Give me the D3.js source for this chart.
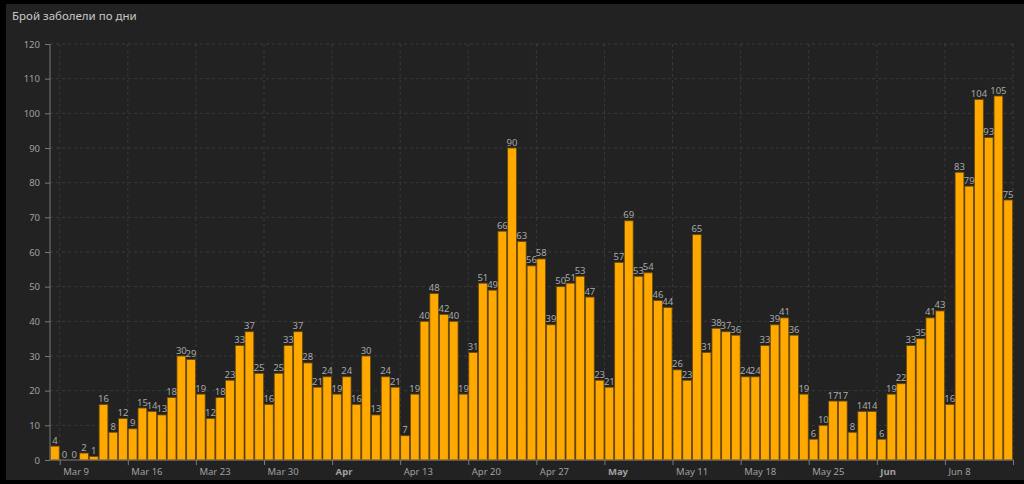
<!DOCTYPE html>
<html>
<head>
<meta charset="utf-8">
<script src="https://cdn.jsdelivr.net/npm/d3@7"></script>
<style>
  html, body { margin: 0; padding: 0; background: #000; }
  svg { display: block; }
</style>
</head>
<body>
<svg id="chart" width="1024" height="484"></svg>
<script>
const title = "Брой заболели по дни";
const startDate = "2020-03-08";
const values = [4, 0, 0, 2, 1, 16, 8, 12, 9, 15, 14, 13, 18, 30, 29, 19, 12, 18, 23, 33,
  37, 25, 16, 25, 33, 37, 28, 21, 24, 19, 24, 16, 30, 13, 24, 21, 7, 19, 40, 48,
  42, 40, 19, 31, 51, 49, 66, 90, 63, 56, 58, 39, 50, 51, 53, 47, 23, 21, 57, 69,
  53, 54, 46, 44, 26, 23, 65, 31, 38, 37, 36, 24, 24, 33, 39, 41, 36, 19, 6, 10,
  17, 17, 8, 14, 14, 6, 19, 22, 33, 35, 41, 43, 16, 83, 79, 104, 93, 105, 75];
const yTicks = [0, 10, 20, 30, 40, 50, 60, 70, 80, 90, 100, 110, 120];

(function () {
const parse = d3.utcParse("%Y-%m-%d");
const t0 = parse(startDate);
const data = values.map((v, i) => ({ date: d3.utcDay.offset(t0, i), value: v }));
const tEnd = d3.utcDay.offset(t0, values.length);

const svg = d3.select("#chart");
const font = "'Noto Sans', 'Open Sans', sans-serif";

svg.append("rect").attr("x", 0).attr("y", 0).attr("width", 1024).attr("height", 484).attr("fill", "#000");
svg.append("rect").attr("x", 6).attr("y", 4).attr("width", 1018).attr("height", 476).attr("fill", "#222222");

svg.append("text").attr("x", 12).attr("y", 20)
  .attr("fill", "#c8c8c8").attr("font-family", font).attr("font-size", 11.5)
  .text(title);

const mL = 50, mR = 1013, mT = 44, mB = 460;
const x = d3.scaleUtc().domain([t0, tEnd]).range([mL, mR]);
const y = d3.scaleLinear().domain([0, 120]).range([mB, mT]);

const weekTicks = d3.utcMonday.range(t0, tEnd);

const grid = svg.append("g");
grid.selectAll("line.h").data(yTicks.filter(d => d > 0)).join("line")
  .attr("x1", mL).attr("x2", mR).attr("y1", d => y(d)).attr("y2", d => y(d))
  .attr("stroke", "#3a3a3a").attr("stroke-dasharray", "3,3");
grid.selectAll("line.v").data(weekTicks.concat([tEnd])).join("line")
  .attr("x1", d => x(d)).attr("x2", d => x(d)).attr("y1", mT).attr("y2", mB)
  .attr("stroke", "#3a3a3a").attr("stroke-dasharray", "3,3");

const cell = x(d3.utcDay.offset(t0, 1)) - x(t0);
const bw = cell * 0.9;
svg.append("g").selectAll("rect").data(data).join("rect")
  .attr("x", d => x(d.date) + (cell - bw) / 2)
  .attr("y", d => y(d.value))
  .attr("width", bw)
  .attr("height", d => y(0) - y(d.value))
  .attr("fill", "#ffa800")
  .attr("stroke", "#6b4a08").attr("stroke-width", 0.8);

svg.append("g").selectAll("text").data(data).join("text")
  .attr("x", d => x(d.date) + cell / 2)
  .attr("y", d => y(d.value) - 2.5)
  .attr("text-anchor", "middle")
  .attr("fill", "#a8a8a8").attr("font-family", font).attr("font-size", 9.5)
  .text(d => d.value);

const yAxis = d3.axisLeft(y).tickValues(yTicks).tickSize(5).tickPadding(5);
const gy = svg.append("g").attr("transform", `translate(${mL},0)`).call(yAxis);
gy.select(".domain").attr("stroke", "#7a7a7a").attr("d", `M0,${mT}V${mB}`);
gy.selectAll(".tick line").attr("stroke", "#7a7a7a");
gy.selectAll(".tick text").attr("fill", "#a0a0a0").attr("font-family", font).attr("font-size", 9.5);

const fmt = d => (d.getUTCDate() <= 7) ? d3.utcFormat("%b")(d) : d3.utcFormat("%b %-d")(d);
const xAxis = d3.axisBottom(x).tickValues(weekTicks.concat([tEnd])).tickSize(5).tickPadding(3)
  .tickFormat((d, i) => i === weekTicks.length ? "" : fmt(d));
const gx = svg.append("g").attr("transform", `translate(0,${mB})`).call(xAxis);
gx.select(".domain").attr("stroke", "#7a7a7a").attr("d", `M${mL},0H${mR}`);
gx.selectAll(".tick line").attr("stroke", "#7a7a7a");
gx.selectAll(".tick text")
  .attr("text-anchor", "start").attr("dx", 3)
  .attr("fill", "#a0a0a0").attr("font-family", font).attr("font-size", 9.5)
  .attr("font-weight", d => d.getUTCDate() <= 7 ? "bold" : "normal");
})();
</script>
</body>
</html>
